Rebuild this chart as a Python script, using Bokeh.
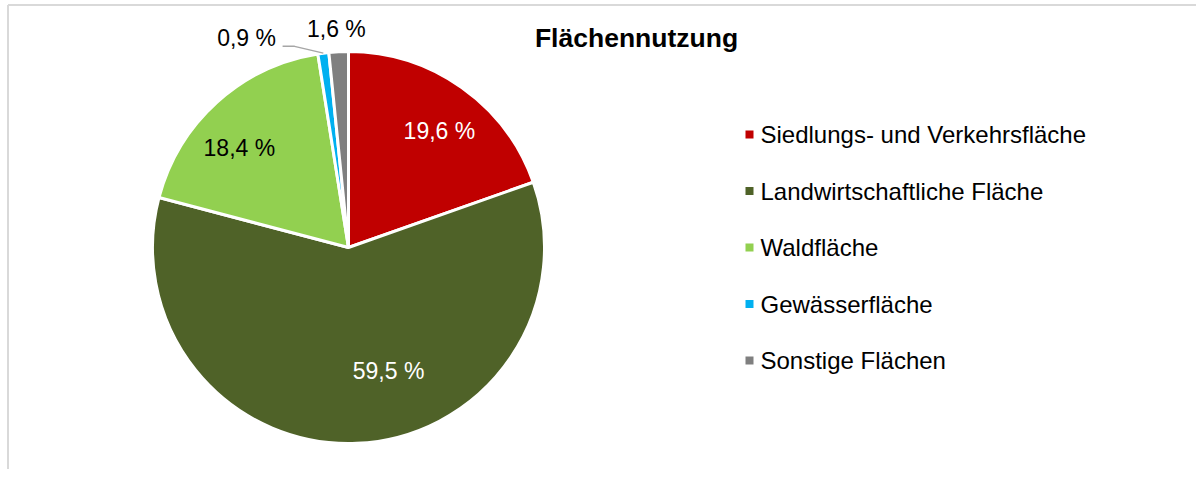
import math
from bokeh.plotting import figure
from bokeh.models import Range1d
from bokeh.core.properties import value
from bokeh.embed import file_html
from bokeh.resources import INLINE

# ---- data ----
categories = ["Siedlungs- und Verkehrsfläche", "Landwirtschaftliche Fläche",
              "Waldfläche", "Gewässerfläche", "Sonstige Flächen"]
shares = [19.6, 59.5, 18.4, 0.9, 1.6]
labels = ["19,6 %", "59,5 %", "18,4 %", "0,9 %", "1,6 %"]
title_text = "Flächennutzung"

# ---- styles ----
colors = ["#C00000", "#4F6228", "#92D050", "#00B0F0", "#7F7F7F"]
label_colors = ["white", "white", "black", "black", "black"]
label_rfrac = [0.752, 0.66, 0.755, 1.187, 1.114]
label_tweak = [-2.8, 15.7, 5.4, 18.6, 0.3]
FONT = "Liberation Sans"

W, H = 1196, 469
OX, OY = 0, 0  # page offset of figure (as observed)


def px(x):
    return x - OX


def py(y):
    return H - (y - OY)


CX, CY, R = px(348), py(247), 196

p = figure(width=W, height=H, output_backend="svg", toolbar_location=None,
           x_range=Range1d(0, W), y_range=Range1d(0, H), min_border=0)
p.axis.visible = False
p.grid.visible = False
p.outline_line_color = None
p.background_fill_color = "white"
p.border_fill_color = "white"

# frame lines (left and top)
p.line([px(7.5), px(7.5)], [0, py(4.5)], line_color="#D9D9D9", line_width=2)
p.line([px(7.5), W], [py(4.5), py(4.5)], line_color="#D9D9D9", line_width=2)

# wedges
total = sum(shares)
cum = 0.0
starts, ends, mids = [], [], []
for s in shares:
    a0 = 90 - cum / total * 360
    cum += s
    a1 = 90 - cum / total * 360
    starts.append(math.radians(a0))
    ends.append(math.radians(a1))
    mids.append((a0 + a1) / 2)

p.wedge(x=CX, y=CY, radius=R, radius_units="screen",
        start_angle=starts, end_angle=ends, direction="clock",
        fill_color=colors, line_color="white", line_width=3)

# data labels
lx, ly = [], []
for m, rf, tw in zip(mids, label_rfrac, label_tweak):
    a = math.radians(m + tw)
    lx.append(CX + rf * R * math.cos(a))
    ly.append(CY + rf * R * math.sin(a))

p.text(x=lx, y=ly, text=labels, text_color=label_colors,
       text_font=value(FONT), text_font_size="23px",
       text_align="center", text_baseline="middle")

# leader line for small slice (blue)
bi = 3
am = math.radians(mids[bi])
ex, ey = CX + R * math.cos(am), CY + R * math.sin(am)
sx, sy = lx[bi] + 36, ly[bi] - 8
p.line([sx, sx + 12, ex], [sy, sy, ey], line_color="#A6A6A6", line_width=1.5)

# title
p.text(x=[px(636)], y=[py(37)], text=[title_text], text_color="black",
       text_font=value(FONT), text_font_size="26.5px", text_font_style="bold",
       text_align="center", text_baseline="middle")

# legend
leg_y0, leg_dy = 134, 56.5
leg_ys = [py(leg_y0 + i * leg_dy) for i in range(len(categories))]
p.scatter(x=[px(749)] * len(categories), y=leg_ys, marker="square", size=8,
          fill_color=colors, line_color=None)
p.text(x=[px(760)] * len(categories), y=leg_ys, text=categories,
       text_color="black", text_font=value(FONT), text_font_size="24px",
       text_align="left", text_baseline="middle")

open("out.html", "w").write(file_html(p, INLINE))
